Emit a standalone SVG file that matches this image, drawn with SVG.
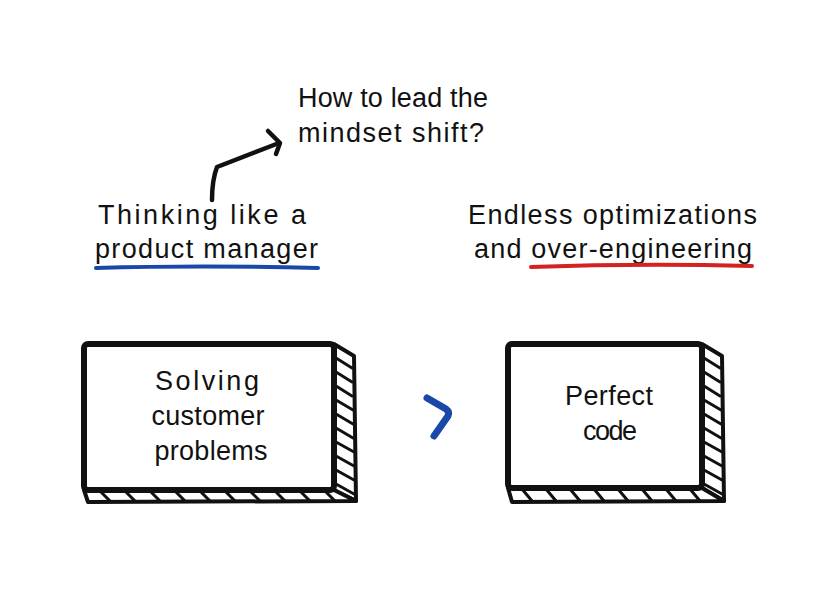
<svg xmlns="http://www.w3.org/2000/svg" width="840" height="600" viewBox="0 0 840 600">
<style>
.t{font-family:"Liberation Sans","DejaVu Sans",sans-serif;font-size:27px;fill:#111}
.box{fill:#fff;stroke:#111;stroke-width:6;stroke-linejoin:round}
.face{fill:#fff;stroke:#111;stroke-width:4;stroke-linejoin:round}
.h{stroke:#111;stroke-width:3;fill:none;stroke-linecap:round}
.ln{fill:none;stroke-linecap:round;stroke-linejoin:round}
</style>
<rect width="840" height="600" fill="#fff"/>
<g id="node-solving">
<polygon class="face" points="334,344 354,356 356,501 334,490"/>
<polygon class="face" points="84,490 334,490 356,501 88,502"/>
<path class="h" d="M336,358 L352,368 M336,372 L352,382 M336,386 L352,396 M336,400 L353,410 M336,414 L353,424 M336,428 L353,438 M336,442 L354,452 M336,456 L354,466 M336,470 L354,480 M336,484 L354,494"/>
<path class="h" d="M100,491 L110,501 M125,491 L135,501 M150,491 L160,501 M175,491 L185,501 M200,491 L210,501 M225,491 L235,501 M250,491 L260,501 M275,491 L285,501 M300,491 L310,501 M325,491 L335,501"/>
<rect class="box" x="84" y="344" width="250" height="146" rx="4"/>
<text class="t" x="207" y="390" text-anchor="middle" textLength="104">Solving</text>
<text class="t" x="208" y="425" text-anchor="middle" textLength="113">customer</text>
<text class="t" x="211" y="460" text-anchor="middle" textLength="113">problems</text>
</g>
<g id="node-perfect">
<polygon class="face" points="702,344 722,356 724,501 702,488"/>
<polygon class="face" points="508,488 702,488 724,501 512,502"/>
<path class="h" d="M704,358 L720,368 M704,372 L720,382 M704,386 L720,396 M704,400 L721,410 M704,414 L721,424 M704,428 L721,438 M704,442 L722,452 M704,456 L722,466 M704,470 L722,480 M704,484 L722,494"/>
<path class="h" d="M522,489 L532,501 M546,489 L556,501 M570,489 L580,501 M594,489 L604,501 M618,489 L628,501 M642,489 L652,501 M666,489 L676,501 M690,489 L700,501"/>
<rect class="box" x="508" y="344" width="194" height="144" rx="4"/>
<text class="t" x="609" y="405" text-anchor="middle" textLength="88">Perfect</text>
<text class="t" x="610" y="440" text-anchor="middle" textLength="54">code</text>
</g>
<g id="label-thinking">
<text class="t" x="98" y="224" textLength="208">Thinking like a</text>
<text class="t" x="95" y="258" textLength="223">product manager</text>
<path class="ln" d="M96,268 Q200,265 318,268" stroke="#1a48a8" stroke-width="4"/>
</g>
<g id="label-endless">
<text class="t" x="468" y="224" textLength="289">Endless optimizations</text>
<text class="t" x="474" y="258" textLength="278">and over-engineering</text>
<path class="ln" d="M531,267 Q640,263 752,266" stroke="#d42121" stroke-width="4"/>
</g>
<g id="label-question">
<text class="t" x="298" y="107" textLength="190">How to lead the</text>
<text class="t" x="298" y="142" textLength="186">mindset shift?</text>
</g>
<g id="connectors">
<path class="ln" d="M212,200 Q212,180 217,167 L279,143" stroke="#111" stroke-width="4.5"/>
<path class="ln" d="M268,131 L280,143 L276,154" stroke="#111" stroke-width="4.5"/>
<path class="ln" d="M427,398 L446,409 Q450,412 448,416 L434,436" stroke="#1a48a8" stroke-width="7"/>
</g>
</svg>
